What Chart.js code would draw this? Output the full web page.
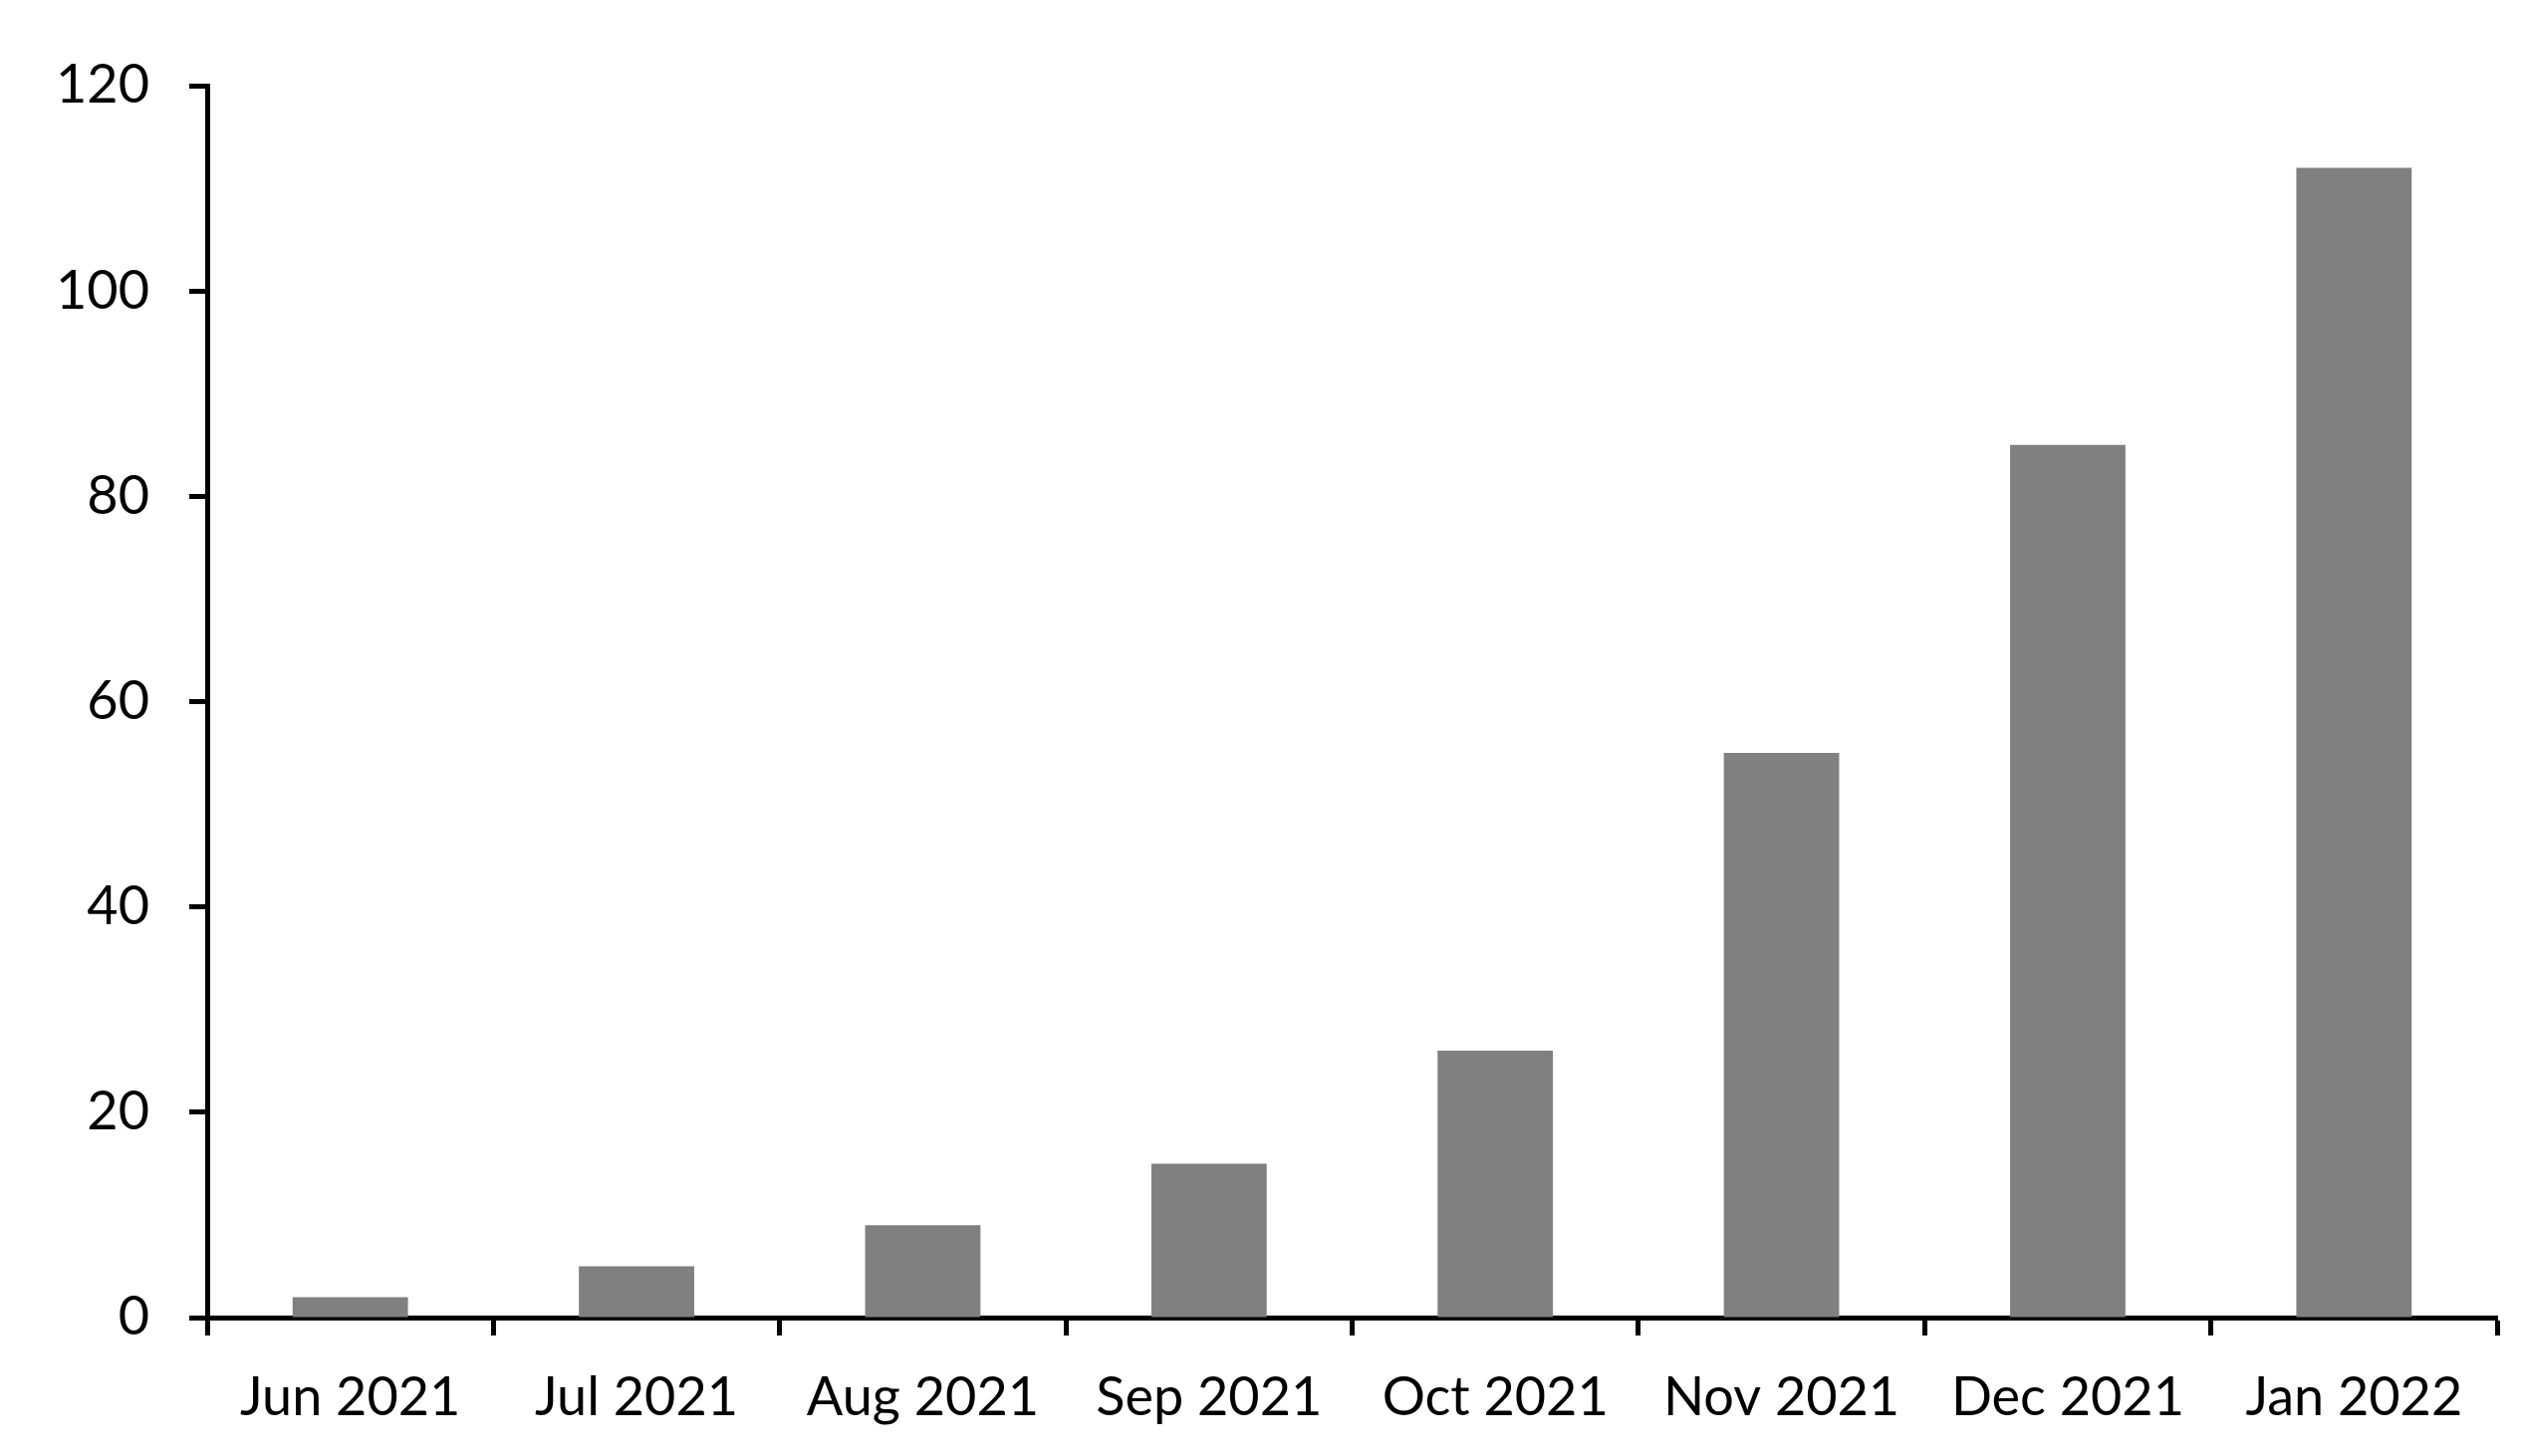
<!DOCTYPE html>
<html>
<head>
<meta charset="utf-8">
<script src="https://cdn.jsdelivr.net/npm/chart.js@4"></script>
<style>
  html, body { margin: 0; padding: 0; background: #fff; }
  #wrap { width: 2536px; height: 1462px; }
</style>
</head>
<body>
<div id="wrap"><canvas id="barChart" width="2536" height="1462"></canvas></div>
<script>
// chart data
const months = ["Jun 2021", "Jul 2021", "Aug 2021", "Sep 2021", "Oct 2021", "Nov 2021", "Dec 2021", "Jan 2022"];
const counts = [2, 5, 9, 15, 26, 55, 85, 112];
const yTicks = [0, 20, 40, 60, 80, 100, 120];

const axisFont = { family: "Lato, 'Open Sans', sans-serif", size: 54 };

const config = {
  type: "bar",
  data: {
    labels: months,
    datasets: [{
      data: counts,
      backgroundColor: "#808080",
      borderWidth: 0,
      categoryPercentage: 1,
      barPercentage: 0.403
    }]
  },
  options: {
    responsive: false,
    animation: false,
    layout: { padding: { left: 0, right: 29, top: 86, bottom: 0 } },
    plugins: { legend: { display: false }, tooltip: { enabled: false } },
    scales: {
      x: {
        grid: { drawOnChartArea: false, drawTicks: true, tickLength: 18, tickWidth: 5, color: "#000", offset: true },
        border: { display: true, width: 5, color: "#000" },
        ticks: { color: "#000", font: axisFont, padding: 30, maxRotation: 0 },
        afterFit: (scale) => { scale.height = 1462 - 1323; }
      },
      y: {
        min: 0,
        max: 120,
        afterBuildTicks: (scale) => { scale.ticks = yTicks.map(v => ({ value: v })); },
        grid: { drawOnChartArea: false, drawTicks: true, tickLength: 18, tickWidth: 5, color: "#000" },
        border: { display: true, width: 5, color: "#000" },
        ticks: { color: "#000", font: axisFont, padding: 40 },
        afterFit: (scale) => { scale.width = 208; }
      }
    }
  }
};

const barChart = new Chart(document.getElementById("barChart").getContext("2d"), config);
</script>
</body>
</html>
